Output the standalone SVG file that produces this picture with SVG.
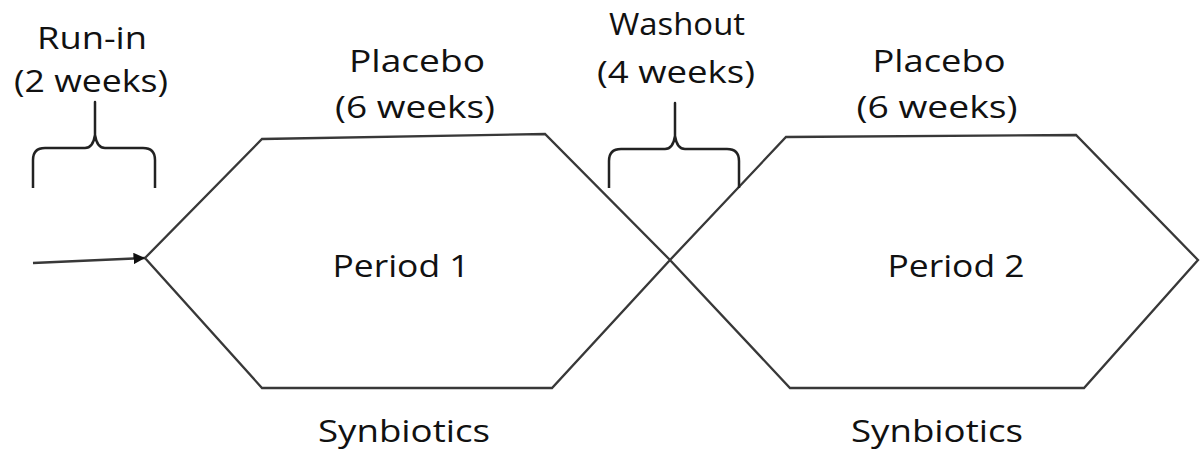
<svg xmlns="http://www.w3.org/2000/svg" width="1200" height="455" viewBox="0 0 1200 455">
<style>
text{font-family:"Open Sans","Liberation Sans",sans-serif;font-size:31px;fill:#111;text-anchor:middle}
.ln{fill:none;stroke:#383838;stroke-width:2.3;stroke-linejoin:miter}
.br{fill:none;stroke:#222;stroke-width:2.5;stroke-linejoin:round}
</style>
<defs>
<marker id="ah" viewBox="0 0 10 10" refX="10" refY="5" markerWidth="5" markerHeight="5" orient="auto" markerUnits="strokeWidth">
<path d="M0,0 L10,5 L0,10 z" fill="#111"/>
</marker>
</defs>
<rect width="1200" height="455" fill="#fff"/>
<g id="period1">
<path class="ln" d="M145,258 L262,139 L545,134 L670,260 L552,388 L262,388 Z"/>
<text x="401" y="277" textLength="137" lengthAdjust="spacingAndGlyphs">Period 1</text>
</g>
<g id="period2">
<path class="ln" d="M670,260 L786,137 L1076,135 L1198,260 L1084,388 L790,388 Z"/>
<text x="956" y="277" textLength="137" lengthAdjust="spacingAndGlyphs">Period 2</text>
</g>
<g id="runin">
<path class="br" d="M33,188 L33,160 Q33,148 45,148 L85,148 Q93,148 95,135 L95,102 L95,135 Q97,148 105,148 L143,148 Q155,148 155,160 L155,188"/>
<text x="92" y="49" textLength="110" lengthAdjust="spacingAndGlyphs">Run-in</text>
<text x="91" y="92" textLength="154" lengthAdjust="spacingAndGlyphs">(2 weeks)</text>
</g>
<g id="washout">
<path class="br" d="M609,188 L609,161 Q609,149 621,149 L665,149 Q673,149 675,136 L675,103 L675,136 Q677,149 685,149 L727,149 Q739,149 739,161 L739,188"/>
<text x="677" y="35" textLength="136" lengthAdjust="spacingAndGlyphs">Washout</text>
<text x="676" y="83" textLength="158" lengthAdjust="spacingAndGlyphs">(4 weeks)</text>
</g>
<g id="placebo1">
<text x="417" y="72" textLength="136" lengthAdjust="spacingAndGlyphs">Placebo</text>
<text x="415" y="118" textLength="160" lengthAdjust="spacingAndGlyphs">(6 weeks)</text>
</g>
<g id="placebo2">
<text x="939" y="72" textLength="133" lengthAdjust="spacingAndGlyphs">Placebo</text>
<text x="937" y="118" textLength="161" lengthAdjust="spacingAndGlyphs">(6 weeks)</text>
</g>
<g id="synbiotics1">
<text x="404" y="442" textLength="172" lengthAdjust="spacingAndGlyphs">Synbiotics</text>
</g>
<g id="synbiotics2">
<text x="937" y="442" textLength="172" lengthAdjust="spacingAndGlyphs">Synbiotics</text>
</g>
<g id="connectors">
<line class="ln" x1="33" y1="263" x2="145" y2="258" marker-end="url(#ah)"/>
</g>
</svg>
